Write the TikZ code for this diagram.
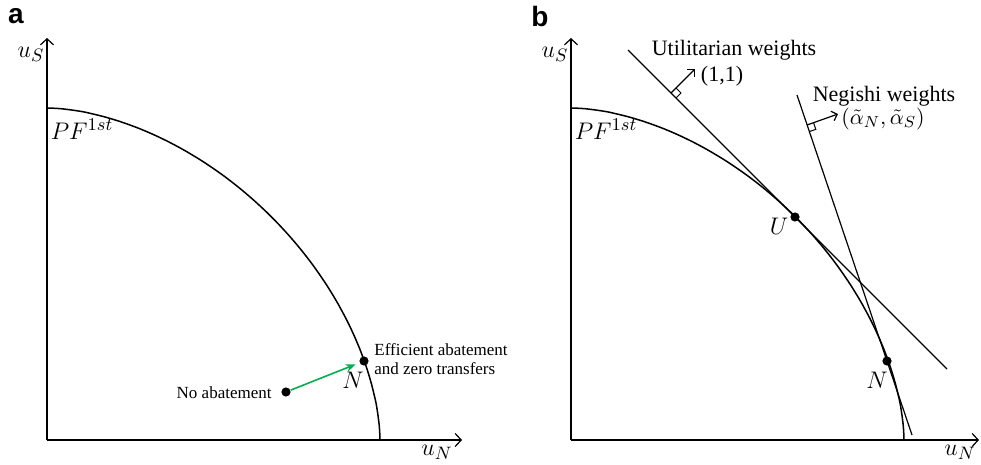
\documentclass[tikz,border=0pt]{standalone}
\usepackage{fontspec}
\setmainfont{Liberation Serif}
\newfontfamily\panelfont{Liberation Sans}
\usetikzlibrary{arrows.meta}

\definecolor{arrowgreen}{RGB}{0,176,80}

\begin{document}
\begin{tikzpicture}[x=0.5pt,y=-0.5pt,
            axis/.style={line width=0.6pt,-{Straight Barb[length=3pt,width=6.5pt]}},
            frontier/.style={line width=0.75pt},
            weight line/.style={line width=0.6pt},
            normal/.style={line width=0.6pt,-{Straight Barb[length=2.5pt,width=5pt]}},
            dot/.style={circle,fill=black,inner sep=0pt,minimum size=4.6pt},
            move/.style={arrowgreen,line width=0.8pt,-{Stealth[length=5pt,width=4pt]},shorten >=2pt},
            panel name/.style={font=\panelfont\bfseries\fontsize{14}{16}\selectfont},
            axis name/.style={font=\fontsize{13}{14}\selectfont,inner sep=1pt},
            point name/.style={font=\fontsize{11.5}{13}\selectfont,inner sep=1pt},
            note/.style={font=\fontsize{8.5}{9.2}\selectfont,align=left,inner sep=1pt},
            weight name/.style={font=\fontsize{11}{12}\selectfont,inner sep=0.5pt}
         ]
      \useasboundingbox (0,0) rectangle (981,465);

      % panel a
      \node[panel name] (pa) at (16,16) {a};
      \coordinate (oa) at (47,440);
      \coordinate (ya) at (47,38);
      \coordinate (xa) at (462,440);
      \draw[axis] (oa) -- (ya);
      \draw[axis] (oa) -- (xa);
      \node[axis name] (usa) at (31,54) {$u_S$};
      \node[axis name] (una) at (437,452) {$u_N$};
      \draw[frontier] plot[domain=0.01:89.99,samples=120,variable=\t]
         ({47+333*pow(cos(\t),1.143)},{440-332*pow(sin(\t),1.143)});
      \node[axis name] (pfa) at (82,129) {$PF^{1st}$};

      \node[dot] (na) at (364,361) {};
      \node[dot] (noab) at (286,392) {};
      \node[point name] (nalab) at (353,380) {$N$};
      \node[note,anchor=east] (noablab) at (274,393) {No abatement};
      \node[note,anchor=west] (efflab) at (372,359) {Efficient abatement\\and zero transfers};
      \draw[move] (noab) -- (na);

      % panel b
      \node[panel name] (pb) at (540,16) {b};
      \coordinate (ob) at (571,440);
      \coordinate (yb) at (571,38);
      \coordinate (xb) at (979,440);
      \draw[axis] (ob) -- (yb);
      \draw[axis] (ob) -- (xb);
      \node[axis name] (usb) at (555,54) {$u_S$};
      \node[axis name] (unb) at (960,452) {$u_N$};
      \draw[frontier] plot[domain=0.01:89.99,samples=120,variable=\t]
         ({571+333*pow(cos(\t),1.143)},{440-332*pow(sin(\t),1.143)});
      \node[axis name] (pfb) at (606,129) {$PF^{1st}$};

      \node[dot] (u) at (795,217) {};
      \node[dot] (nb) at (887,361) {};
      \node[point name] (ulab) at (779,226) {$U$};
      \node[point name] (nblab) at (877,380) {$N$};

      % utilitarian weights
      \coordinate (ut) at (628,50);
      \coordinate (ue) at (947,369);
      \draw[weight line] (ut) -- (ue);
      \coordinate (uf) at (671,93);
      \coordinate (ua) at (695,69);
      \draw[normal] (uf) -- (ua);
      \draw[line width=0.5pt] ([shift={(5,5)}]uf) -- ++(5,-5) -- ++(-5,-5);
      \node[weight name] (ulabel) at (734,50) {Utilitarian weights};
      \node[weight name] (uval) at (722,76) {(1,1)};

      % Negishi weights
      \coordinate (nt) at (797,95);
      \coordinate (ne) at (912,435);
      \draw[weight line] (nt) -- (ne);
      \coordinate (nf) at (807,125);
      \coordinate (nw) at (838,114);
      \draw[normal] (nf) -- (nw);
      \draw[line width=0.5pt] ([shift={(2.2,6.6)}]nf) -- ++(6.6,-2.2) -- ++(-2.2,-6.6);
      \node[weight name] (nlabel) at (884,96) {Negishi weights};
      \node[weight name] (nval) at (883,119) {$(\tilde{\alpha}_N,\tilde{\alpha}_S)$};

   \end{tikzpicture}
\end{document}
